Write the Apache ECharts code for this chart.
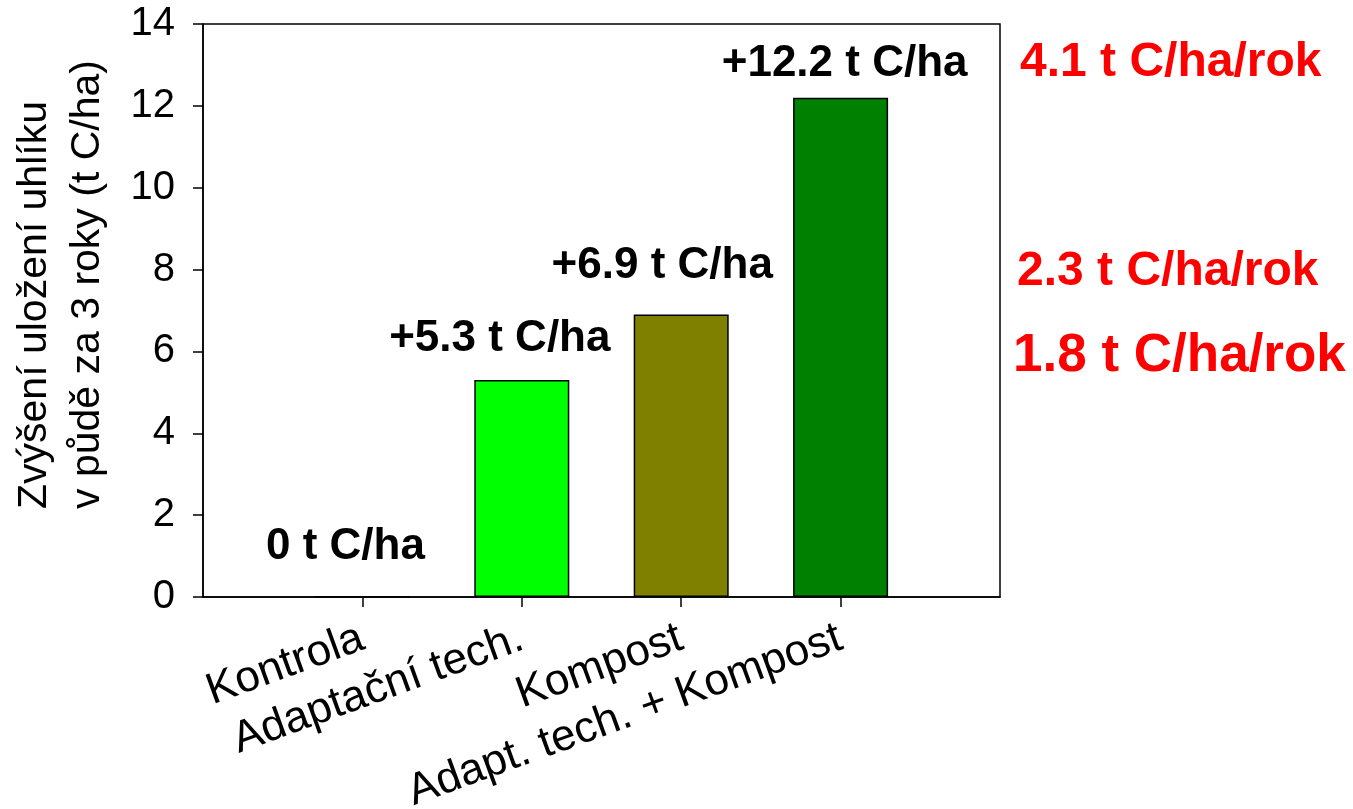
<!DOCTYPE html>
<html>
<head>
<meta charset="utf-8">
<script src="https://cdn.jsdelivr.net/npm/echarts@6/dist/echarts.min.js"></script>
<style>
  html, body { margin: 0; padding: 0; background: #ffffff; }
  #chart { width: 1353px; height: 809px; }
</style>
</head>
<body>
<div id="chart"></div>
<script>
// Carbon gain in soil after 3 years, per treatment
const categories = ['Kontrola', 'Adaptační tech.', 'Kompost', 'Adapt. tech. + Kompost'];
const carbonGain = [0, 5.3, 6.9, 12.2];          // t C/ha over 3 years
const barColors = ['#ffffff', '#00ff00', '#808000', '#008000'];
const yearlyRates = ['4.1 t C/ha/rok', '2.3 t C/ha/rok', '1.8 t C/ha/rok'];
const yAxisTitle = ['Zvýšení uložení uhlíku', 'v půdě za 3 roky (t C/ha)'];
const yMin = 0, yMax = 14, yStep = 2;

// label nudges (px) for the value captions above each bar
const labelShift = [[-17, -49], [-22, -41], [-19, -49], [4, -34]];

const FONT = '"Liberation Sans", Arial, Helvetica, sans-serif';

// pad the category axis with an empty slot on each side
const axisData = [''].concat(categories, ['']);
const barData = ['-'].concat(carbonGain.map((v, i) => ({
  value: v,
  itemStyle: { color: barColors[i] },
  label: { offset: labelShift[i] }
})), ['-']);

const chart = echarts.init(document.getElementById('chart'), null, { renderer: 'canvas' });

const rateText = (text, x, y, size) => ({
  type: 'text', x: x, y: y,
  style: {
    text: text, fontFamily: FONT, fontSize: size, fontWeight: 'bold', fill: '#ff0000',
    align: 'left', verticalAlign: 'middle', textAlign: 'left', textVerticalAlign: 'middle'
  }
});

const option = {
  animation: false,
  backgroundColor: '#ffffff',
  grid: {
    left: 203, right: 353, top: 24, bottom: 212,
    containLabel: false, outerBoundsMode: 'none',
    show: true, borderColor: '#000', borderWidth: 1.5, backgroundColor: 'transparent'
  },
  xAxis: {
    type: 'category',
    data: axisData,
    boundaryGap: false,
    axisLine: { show: true, lineStyle: { color: '#000', width: 1.5 } },
    axisTick: {
      show: true, inside: false, length: 10,
      interval: (i) => i > 0 && i < axisData.length - 1,
      lineStyle: { color: '#000', width: 1.5 }
    },
    axisLabel: {
      interval: 0, rotate: 20, margin: 40,
      fontFamily: FONT, fontSize: 44, color: '#000'
    },
    splitLine: { show: false }
  },
  yAxis: {
    type: 'value',
    min: yMin, max: yMax, interval: yStep,
    axisLine: { show: true, lineStyle: { color: '#000', width: 1.5 } },
    axisTick: { show: true, inside: false, length: 10, lineStyle: { color: '#000', width: 1.5 } },
    axisLabel: { margin: 28, fontFamily: FONT, fontSize: 40, color: '#000' },
    splitLine: { show: false }
  },
  series: [{
    type: 'bar',
    data: barData,
    barWidth: 95,
    itemStyle: { borderColor: '#000', borderWidth: 1.5 },
    label: {
      show: true,
      position: 'top',
      distance: 0,
      verticalAlign: 'middle',
      fontFamily: FONT, fontSize: 44, fontWeight: 'bold', color: '#000',
      formatter: (p) => (p.value > 0 ? '+' : '') + p.value + ' t C/ha'
    }
  }],
  graphic: [
    {
      type: 'text', x: 61, y: 509, rotation: Math.PI / 2,
      style: {
        text: yAxisTitle.join('\n'),
        fontFamily: FONT, fontSize: 41, lineHeight: 53, fill: '#000',
        align: 'left', verticalAlign: 'middle', textAlign: 'left', textVerticalAlign: 'middle'
      }
    },
    rateText(yearlyRates[0], 1020, 63, 48),
    rateText(yearlyRates[1], 1017, 272, 48),
    rateText(yearlyRates[2], 1013, 356, 53)
  ]
};

chart.setOption(option);
</script>
</body>
</html>
